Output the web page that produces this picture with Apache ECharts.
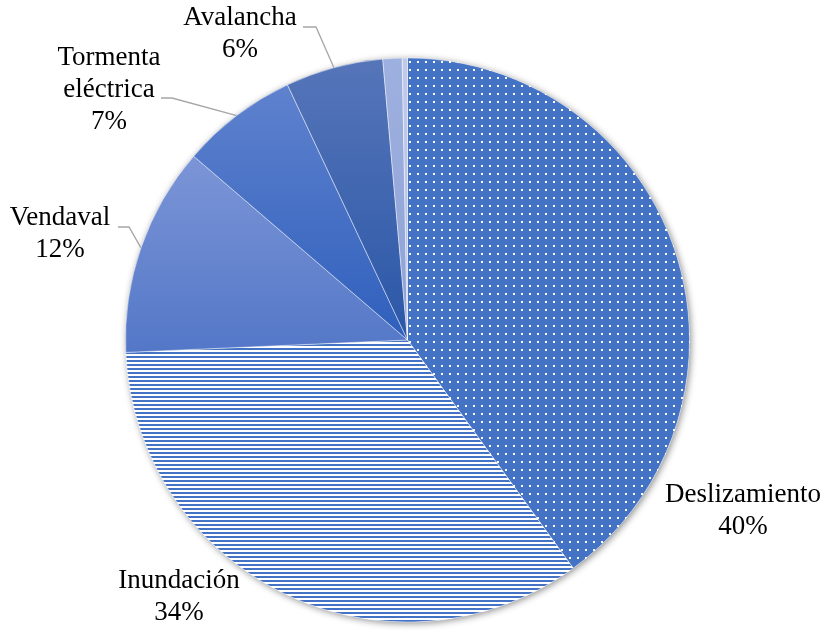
<!DOCTYPE html>
<html>
<head>
<meta charset="utf-8">
<script src="https://cdn.jsdelivr.net/npm/echarts@6/dist/echarts.min.js"></script>
<style>
  html, body { margin: 0; padding: 0; background: #ffffff; }
  #chart { width: 833px; height: 634px; }
</style>
</head>
<body>
<div id="chart"></div>
<script>
// Share of events by type (percent), clockwise from 12 o'clock
const categories = ['Deslizamiento', 'Inundación', 'Vendaval', 'Tormenta eléctrica', 'Avalancha', '', ''];
const shares = [40.0, 34.3, 12.0, 6.7, 5.6, 1.1, 0.3];

// Fill patterns for the two largest slices
function dotPattern() {
  const c = document.createElement('canvas');
  c.width = 8; c.height = 8;
  const g = c.getContext('2d');
  g.fillStyle = '#4472c4';
  g.fillRect(0, 0, 8, 8);
  g.fillStyle = '#ffffff';
  g.fillRect(1, 5, 2, 2);
  return c;
}
function stripePattern() {
  const c = document.createElement('canvas');
  c.width = 4; c.height = 4;
  const g = c.getContext('2d');
  g.fillStyle = '#4472c4';
  g.fillRect(0, 0, 4, 2);
  g.fillStyle = '#ffffff';
  g.fillRect(0, 2, 4, 2);
  return c;
}
function vGrad(top, bottom) {
  return {
    type: 'linear', x: 0, y: 0, x2: 0, y2: 1,
    colorStops: [{ offset: 0, color: top }, { offset: 1, color: bottom }]
  };
}

const fills = [
  { image: dotPattern(), repeat: 'repeat' },
  { image: stripePattern(), repeat: 'repeat' },
  vGrad('#7c95d7', '#5377c7'),
  vGrad('#5f82ce', '#2f5fbc'),
  vGrad('#5675b9', '#2a57a7'),
  vGrad('#9eb0df', '#8ea2d6'),
  vGrad('#c0cbea', '#b3c0e6')
];

// Where each label block sits, and the elbow/end of its leader line
const labelSpots = {
  0: { x: 743, y: 511 },
  1: { x: 179, y: 597 },
  2: { x: 60, y: 234, line: [[141, 246], [129, 227], [118, 227]] },
  3: { x: 109, y: 90, line: [[238, 115], [172, 98], [161, 98]] },
  4: { x: 240, y: 34, line: [[334, 68], [316, 27], [303, 27]] }
};

const total = shares.reduce((a, b) => a + b, 0);

const pieData = categories.map((name, i) => {
  const hasLabel = !!labelSpots[i];
  return {
    name: name,
    value: shares[i],
    itemStyle: { color: fills[i] },
    label: { show: hasLabel },
    labelLine: { show: hasLabel && !!labelSpots[i].line }
  };
});

const chart = echarts.init(document.getElementById('chart'), null, { renderer: 'canvas' });

chart.setOption({
  animation: false,
  backgroundColor: '#ffffff',
  series: [
    {
      // soft drop shadow under the whole disc
      type: 'pie',
      silent: true,
      z: 1,
      center: [407.5, 340],
      radius: 282,
      label: { show: false },
      labelLine: { show: false },
      itemStyle: {
        color: '#ffffff',
        shadowBlur: 7,
        shadowColor: 'rgba(0,0,0,0.45)',
        shadowOffsetX: 1.5,
        shadowOffsetY: 1.5
      },
      data: [{ value: 1, name: 'disc' }]
    },
    {
      type: 'pie',
      z: 2,
      center: [407.5, 340],
      radius: 282,
      startAngle: 90,
      clockwise: true,
      avoidLabelOverlap: false,
      itemStyle: {
        borderColor: 'rgba(255,255,255,0.55)',
        borderWidth: 0.8
      },
      label: {
        position: 'outside',
        color: '#000000',
        fontFamily: '"Liberation Serif", "Times New Roman", serif',
        fontSize: 27,
        lineHeight: 32,
        formatter: p => p.name.replace(' ', '\n') + '\n' + Math.round(p.value / total * 100) + '%'
      },
      labelLine: {
        lineStyle: { color: '#a6a6a6', width: 1.3 }
      },
      labelLayout: function (p) {
        const s = labelSpots[p.dataIndex];
        if (!s) return {};
        const out = { x: s.x, y: s.y, align: 'center', verticalAlign: 'middle' };
        if (s.line) {
          const start = (p.labelLinePoints && p.labelLinePoints[0]) || s.line[0];
          out.labelLinePoints = [start, s.line[1], s.line[2]];
        }
        return out;
      },
      data: pieData
    }
  ]
});
</script>
</body>
</html>
